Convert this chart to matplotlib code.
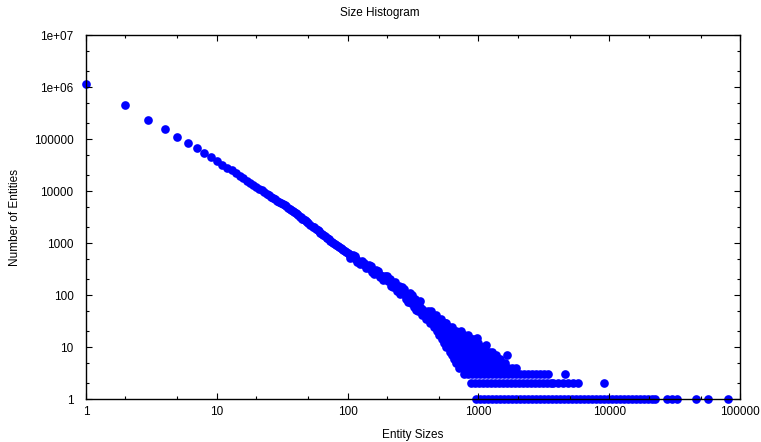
import numpy as np
import matplotlib
matplotlib.use("Agg")
import matplotlib.pyplot as plt
from matplotlib.ticker import FixedLocator, NullFormatter

plt.rcParams['font.family'] = ['Liberation Sans', 'DejaVu Sans']

# --- data ---
# main curve (entity size -> number of entities)
main_sizes = [1, 2, 3, 4, 5, 6, 7, 8, 9, 10, 11, 12, 13, 14, 15, 16, 17, 18, 19, 20,
              21, 22, 23, 24, 25, 26, 27, 28, 29, 30, 31, 32, 33, 34, 35, 36, 37, 38, 39, 40,
              41, 42, 43, 44, 45, 46, 47, 48, 49, 50, 52, 54, 55, 57, 59, 60, 62, 64, 65, 67,
              69, 70, 72, 74, 76, 78, 80, 82, 84, 86, 89, 91, 93, 96, 98, 100, 102, 104, 108, 112,
              116, 121, 125, 130, 135, 140, 145, 151, 157, 163, 170, 176, 183, 190, 197, 205, 213, 221, 229, 238,
              247, 256, 266, 276, 286, 297, 308, 320, 332, 344, 357, 370, 384, 398, 413, 428]
main_counts = [1140000, 445000, 235000, 154000, 109000, 84000, 67000, 54000, 45000, 38000,
               32000, 28000, 25000, 22000, 19500, 17500, 15700, 14300, 13000, 12000,
               11100, 10300, 9700, 8900, 8250, 7800, 7400, 6900, 6500, 6200,
               5900, 5550, 5300, 5050, 4700, 4500, 4300, 4050, 3900, 3700,
               3560, 3380, 3220, 3100, 2950, 2840, 2740, 2610, 2520, 2430,
               2250, 2070, 2000, 1860, 1750, 1680, 1580, 1470, 1430, 1350,
               1270, 1240, 1180, 1110, 1060, 1010, 960, 920, 880, 840,
               790, 760, 730, 690, 665, 640, 620, 600, 560, 520,
               490, 455, 428, 400, 376, 355, 336, 315, 295, 278,
               259, 245, 229, 215, 203, 190, 177, 166, 153, 140,
               129, 120, 110, 102, 94, 87, 80, 74, 68, 63,
               58, 53, 49, 45, 41, 38]

# widening of the band above ~100
spread_sizes = [105, 110, 114, 118, 124, 128, 133, 138, 145, 150, 155, 160, 165, 172, 178,
                185, 192, 200, 210, 215, 222, 232, 240, 245, 250, 260, 270, 280, 290, 300,
                305, 312, 320, 328, 335, 345, 355]
spread_counts = [520, 585, 560, 440, 395, 450, 420, 330, 375, 355, 280, 255, 300, 290, 220,
                 197, 235, 228, 205, 150, 145, 175, 118, 150, 105, 140, 128, 85, 74, 110,
                 70, 98, 60, 85, 52, 55, 75]

# the dense cloud of small counts (one list of sizes per count level)
cloud_levels = {
    50: [344, 375, 409, 431],
    42: [370, 403, 440, 475],
    35: [400, 436, 475, 518],
    29: [428, 467, 509, 555, 570],
    24: [458, 500, 545, 594, 630],
    20: [479, 522, 569, 620, 676, 739],
    17: [500, 545, 594, 648, 706, 770, 832],
    15: [975],
    14: [525, 572, 624, 680, 741, 808, 880, 910],
    12: [543, 592, 645, 703, 766, 835, 910, 991],
    11: [1143],
    10: [569, 620, 676, 737, 803, 876, 955, 1040, 1071],
    8: [604, 658, 718, 782, 853, 929, 1013, 1104, 1200, 1260],
    7: [628, 685, 746, 813, 887, 966, 1053, 1148, 1250, 1361, 1645],
    6: [655, 715, 778, 850, 925, 1010, 1100, 1200, 1305, 1420, 1470],
    5: [680, 740, 808, 880, 960, 1045, 1140, 1240, 1355, 1475, 1610],
    4: [706, 770, 840, 915, 1000, 1085, 1185, 1290, 1405, 1535, 1670, 1820, 1950],
}

row3_sizes = [780, 837, 898, 964, 1034, 1110, 1191, 1278, 1371, 1471, 1579, 1694, 1818,
              1950, 2093, 2246, 2410, 2586, 2775, 2977, 3195, 3405, 4590]
row2_sizes = [872, 935, 1005, 1078, 1157, 1241, 1332, 1429, 1533, 1645, 1765, 1894, 2032,
              2181, 2340, 2511, 2694, 2891, 3102, 3329, 3572, 3700, 4060, 4455, 4840,
              5290, 5770, 9120]
row1_sizes = [955, 1025, 1100, 1180, 1265, 1360, 1460, 1565, 1680, 1800, 1935, 2075, 2225,
              2390, 2565, 2750, 2950, 3170, 3400, 3650, 3915, 4200, 4505, 4835, 5190, 5570,
              5975, 6410, 6880, 7380, 7920, 8500, 9120, 9785, 10500, 11270, 12090, 12975,
              13920, 14940, 16030, 17200, 18460, 19800, 21250, 22400, 27700, 30200, 33000,
              45800, 56600, 81400]

x_ticks = [1, 10, 100, 1000, 10000, 100000]
x_tick_labels = ["1", "10", "100", "1000", "10000", "100000"]
y_ticks = [1, 10, 100, 1000, 10000, 100000, 1000000, 10000000]
y_tick_labels = ["1", "10", "100", "1000", "10000", "100000", "1e+06", "1e+07"]

# collect all points
xs = list(main_sizes) + list(spread_sizes)
ys = list(main_counts) + list(spread_counts)
for level, sizes in cloud_levels.items():
    xs += sizes
    ys += [level] * len(sizes)
for level, sizes in [(3, row3_sizes), (2, row2_sizes), (1, row1_sizes)]:
    xs += sizes
    ys += [level] * len(sizes)

# --- plot ---
fig = plt.figure(figsize=(7.61, 4.42), dpi=100)
ax = fig.add_axes([86 / 761, 1 - 399 / 442, 654 / 761, 364 / 442])

ax.scatter(xs, ys, s=39, color="#0000ff", linewidths=0, clip_on=False, zorder=1)

ax.set_xscale("log")
ax.set_yscale("log")
ax.set_xlim(1, 100000)
ax.set_ylim(1, 10000000)

ax.xaxis.set_major_locator(FixedLocator(x_ticks))
ax.set_xticklabels(x_tick_labels)
ax.yaxis.set_major_locator(FixedLocator(y_ticks))
ax.set_yticklabels(y_tick_labels)

minor_x = [m * 10.0 ** e for e in range(0, 5) for m in (2, 5)]
minor_y = [m * 10.0 ** e for e in range(0, 7) for m in (2, 5)]
ax.xaxis.set_minor_locator(FixedLocator(minor_x))
ax.yaxis.set_minor_locator(FixedLocator(minor_y))
ax.xaxis.set_minor_formatter(NullFormatter())
ax.yaxis.set_minor_formatter(NullFormatter())

ax.tick_params(which="both", direction="in", top=True, right=True, width=0.8, labelsize=8.5)
ax.tick_params(which="major", length=4)
ax.tick_params(which="minor", length=2)
ax.tick_params(axis="y", which="major", pad=9)
ax.tick_params(axis="x", which="major", pad=5)
for sp in ax.spines.values():
    sp.set_linewidth(1.0)
    sp.set_zorder(3)

fig.text(380 / 761, 1 - 13 / 442, "Size Histogram", ha="center", va="center", fontsize=8.5)
fig.text(413 / 761, 1 - 435 / 442, "Entity Sizes", ha="center", va="center", fontsize=8.5)
fig.text(15 / 761, 1 - 217 / 442, "Number of Entities", ha="center", va="center",
         rotation=90, fontsize=8.5)

fig.savefig("out.png", dpi=100)
